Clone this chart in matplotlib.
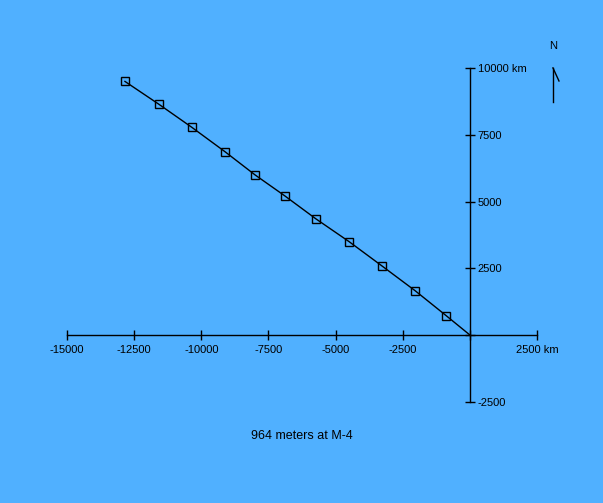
import matplotlib
matplotlib.use("Agg")
import matplotlib.pyplot as plt

plt.rcParams['font.family'] = ['Liberation Sans', 'DejaVu Sans']

# track points (km)
east_km = [-12840, -11570, -10350, -9120, -8000, -6900, -5730, -4500, -3290, -2040, -890, 0]
north_km = [9500, 8640, 7780, 6870, 6000, 5220, 4350, 3500, 2600, 1660, 730, 0]

x_ticks = [-15000, -12500, -10000, -7500, -5000, -2500, 0, 2500]
x_labels = ['-15000', '-12500', '-10000', '-7500', '-5000', '-2500', '', '2500 km']
y_ticks = [-2500, 0, 2500, 5000, 7500, 10000]
y_labels = ['-2500', '', '2500', '5000', '7500', '10000 km']

title = "964 meters at M-4"
bg = '#50B0FF'

fig = plt.figure(figsize=(6.03, 5.03), dpi=100, facecolor=bg)
ax = fig.add_axes([0, 0, 1, 1], facecolor=bg)

ax.set_xlim(-17490, 4950)
ax.set_ylim(-6290, 12550)

# axes crossing at the origin
for s in ['top', 'left']:
    ax.spines[s].set_visible(False)
ax.spines['bottom'].set_position(('data', 0))
ax.spines['bottom'].set_bounds(x_ticks[0], x_ticks[-1])
ax.spines['right'].set_position(('data', 0))
ax.spines['right'].set_bounds(y_ticks[0], y_ticks[-1])
for s in ['bottom', 'right']:
    ax.spines[s].set_linewidth(1.0)
    ax.spines[s].set_color('black')

ax.yaxis.tick_right()
ax.set_xticks(x_ticks)
ax.set_xticklabels(x_labels)
ax.set_yticks(y_ticks)
ax.set_yticklabels(y_labels)
ax.tick_params(axis='both', direction='inout', length=7, width=1.0,
               labelsize=8, colors='black')
ax.tick_params(axis='x', pad=4)
ax.tick_params(axis='y', pad=2)

ax.plot(east_km, north_km, color='black', lw=1.0)
ax.plot(east_km[:-1], north_km[:-1], ls='none', marker='s', ms=5.5,
        mfc='none', mec='black', mew=1.0)

# north arrow
ax.plot([0.917, 0.917], [0.797, 0.865], transform=ax.transAxes, color='black', lw=1.0)
ax.plot([0.917, 0.927], [0.865, 0.839], transform=ax.transAxes, color='black', lw=1.0)
ax.text(0.917, 0.908, 'N', transform=ax.transAxes, ha='center', va='center', fontsize=8)

ax.text(0.5, 0.133, title, transform=ax.transAxes, ha='center', va='center', fontsize=9)

fig.savefig('out.png', dpi=100, facecolor=bg)
